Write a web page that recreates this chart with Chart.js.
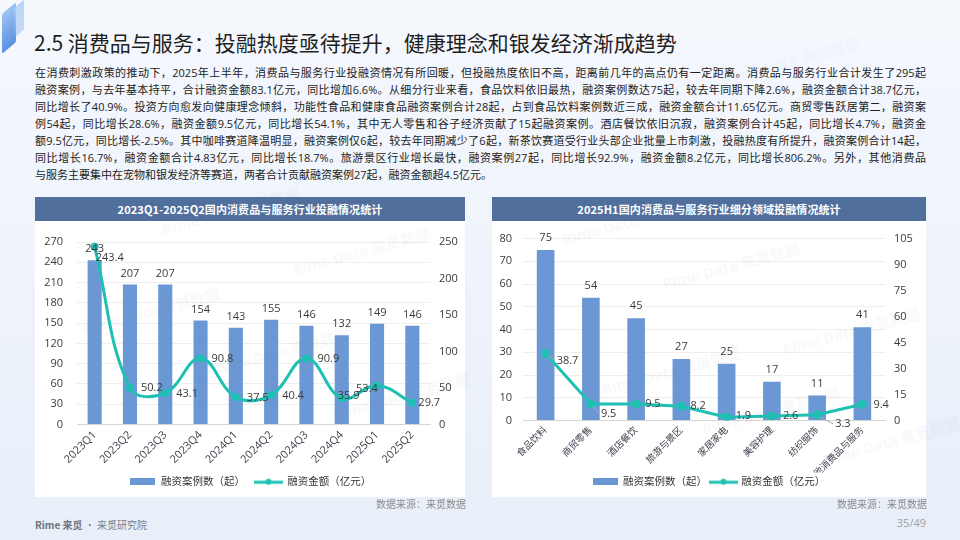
<!DOCTYPE html>
<html><head><meta charset="utf-8">
<script src="https://cdn.jsdelivr.net/npm/chart.js@4.4.1/dist/chart.umd.min.js"></script>
<style>
html,body{margin:0;padding:0;}
body{width:960px;height:540px;overflow:hidden;position:relative;background:linear-gradient(180deg,#f5f8fd 0%,#eef3fb 55%,#e8eff9 100%);font-family:"Open Sans","Noto Sans CJK SC",sans-serif;color:#222;}
#deco{position:absolute;left:2px;top:8px;width:14px;height:40px;transform:skewY(-40deg);background:linear-gradient(180deg,#8cbaf2,#3f7fdc);border-radius:2px;opacity:.85}
#deco2{position:absolute;left:14px;top:4px;width:10px;height:30px;transform:skewY(-40deg);background:linear-gradient(180deg,rgba(170,205,245,.8),rgba(110,165,235,.35));}
#title{position:absolute;left:34px;top:27px;font-size:21px;line-height:30px;font-family:"Noto Sans CJK SC",sans-serif;font-weight:400;color:#1f1f1f;white-space:nowrap;}
#para{position:absolute;left:35px;top:64px;width:891px;font-size:11px;line-height:17px;color:#222}
#para div{text-align:justify;text-align-last:justify;white-space:normal}
#para div.last{text-align-last:left}
.panel{position:absolute;top:197px;height:300px;background:#fff;}
.hdr{height:24px;background:#516f9c;color:#fff;font-weight:bold;font-size:11px;line-height:24px;text-align:center;font-family:"Noto Sans CJK SC",sans-serif;letter-spacing:0.1px}
.panel canvas{position:absolute;left:0;top:24px;}
.src{position:absolute;top:497px;font-size:10px;line-height:14px;color:#8a8a8a;font-family:"Noto Sans CJK SC",sans-serif;}
#foot{position:absolute;left:35px;top:517px;font-size:10px;line-height:16px;color:#7a7f88;font-family:"Noto Sans CJK SC",sans-serif;}
#foot b{font-weight:bold;color:#6f7580}
#page{position:absolute;right:34px;top:515px;font-size:11px;line-height:16px;color:#a0a0a0}
.wm{position:absolute;font-size:15px;color:rgba(110,130,165,0.055);transform:rotate(-15deg);white-space:nowrap;pointer-events:none;font-weight:bold;font-family:"Open Sans","Noto Sans CJK SC",sans-serif}
</style></head>
<body>
<div id="deco"></div><div id="deco2"></div>
<div id="title">2.5 消费品与服务：投融热度亟待提升，健康理念和银发经济渐成趋势</div>
<div id="para">
<div>在消费刺激政策的推动下，2025年上半年，消费品与服务行业投融资情况有所回暖，但投融热度依旧不高，距离前几年的高点仍有一定距离。消费品与服务行业合计发生了295起</div>
<div>融资案例，与去年基本持平，合计融资金额83.1亿元，同比增加6.6%。从细分行业来看，食品饮料依旧最热，融资案例数达75起，较去年同期下降2.6%，融资金额合计38.7亿元，</div>
<div>同比增长了40.9%。投资方向愈发向健康理念倾斜，功能性食品和健康食品融资案例合计28起，占到食品饮料案例数近三成，融资金额合计11.65亿元。商贸零售跃居第二，融资案</div>
<div>例54起，同比增长28.6%，融资金额9.5亿元，同比增长54.1%，其中无人零售和谷子经济贡献了15起融资案例。酒店餐饮依旧沉寂，融资案例合计45起，同比增长4.7%，融资金</div>
<div>额9.5亿元，同比增长-2.5%。其中咖啡赛道降温明显，融资案例仅6起，较去年同期减少了6起，新茶饮赛道受行业头部企业批量上市刺激，投融热度有所提升，融资案例合计14起，</div>
<div>同比增长16.7%，融资金额合计4.83亿元，同比增长18.7%。旅游景区行业增长最快，融资案例27起，同比增长92.9%，融资金额8.2亿元，同比增长806.2%。另外，其他消费品</div>
<div class="last">与服务主要集中在宠物和银发经济等赛道，两者合计贡献融资案例27起，融资金额超4.5亿元。</div>
</div>

<div class="panel" style="left:35px;width:430px">
<div class="hdr">2023Q1-2025Q2国内消费品与服务行业投融情况统计</div>
<canvas id="c1" width="430" height="276"></canvas>
</div>
<div class="panel" style="left:492px;width:434px">
<div class="hdr">2025H1国内消费品与服务行业细分领域投融情况统计</div>
<canvas id="c2" width="434" height="276"></canvas>
</div>
<div class="src" style="right:494px">数据来源：来觅数据</div>
<div class="src" style="right:33px">数据来源：来觅数据</div>
<div id="foot"><b>Rime 来觅</b> · 来觅研究院</div>
<div id="page">35/49</div>

<div class="wm" style="left:160px;top:200px">Rime Data 来觅数据</div>
<div class="wm" style="left:290px;top:240px">Rime Data 来觅数据</div>
<div class="wm" style="left:80px;top:300px">Rime Data 来觅数据</div>
<div class="wm" style="left:210px;top:340px">Rime Data 来觅数据</div>
<div class="wm" style="left:330px;top:385px">Rime Data 来觅数据</div>
<div class="wm" style="left:560px;top:210px">Rime Data 来觅数据</div>
<div class="wm" style="left:660px;top:255px">Rime Data 来觅数据</div>
<div class="wm" style="left:780px;top:320px">Rime Data 来觅数据</div>
<div class="wm" style="left:600px;top:360px">Rime Data 来觅数据</div>
<div class="wm" style="left:700px;top:400px">Rime Data 来觅数据</div>
<div class="wm" style="left:820px;top:430px">Rime Data 来觅数据</div>
<div class="wm" style="left:720px;top:50px">Rime Data 来觅数据</div>

<script>
// ---------- data ----------
const quarters = ['2023Q1','2023Q2','2023Q3','2023Q4','2024Q1','2024Q2','2024Q3','2024Q4','2025Q1','2025Q2'];
const quarterCases = [243,207,207,154,143,155,146,132,149,146];
const quarterAmounts = [243.4,50.2,43.1,90.8,37.5,40.4,90.9,35.9,53.4,29.7];
const quarterCaseTicks = [0,30,60,90,120,150,180,210,240,270];
const quarterAmountTicks = [0,50,100,150,200,250];

const sectors = ['食品饮料','商贸零售','酒店餐饮','旅游与景区','家居家电','美容护理','纺织服饰','其他消费品与服务'];
const sectorCases = [75,54,45,27,25,17,11,41];
const sectorAmounts = [38.7,9.5,9.5,8.2,1.9,2.6,3.3,9.4];
const sectorCaseTicks = [0,10,20,30,40,50,60,70,80];
const sectorAmountTicks = [0,15,30,45,60,75,90,105];

const seriesNames = ['融资案例数（起）','融资金额（亿元）'];

// ---------- style ----------
const BAR = '#6b98d4';
const LINE = '#1ec0b3';
const TXT = '#3a3a3a';
const FONT = '"Open Sans","Noto Sans CJK SC",sans-serif';

function barIcon(){const c=document.createElement('canvas');c.width=25;c.height=7;const x=c.getContext('2d');x.fillStyle=BAR;x.fillRect(0,0,25,7);return c;}
function lineIcon(){const c=document.createElement('canvas');c.width=29;c.height=9;const x=c.getContext('2d');x.strokeStyle=LINE;x.lineWidth=3;x.beginPath();x.moveTo(0,5);x.lineTo(29,5);x.stroke();x.fillStyle=LINE;x.beginPath();x.arc(14.5,4.5,3,0,Math.PI*2);x.fill();return c;}

const valueLabels = {
  id:'valueLabels',
  afterDatasetsDraw(chart, args, opts){
    const ctx = chart.ctx;
    ctx.save();
    ctx.font = '11px '+FONT;
    ctx.fillStyle = TXT;
    ctx.textBaseline = 'middle';
    const bars = chart.getDatasetMeta(0).data;
    ctx.textAlign = 'center';
    bars.forEach((el,i)=>{
      ctx.fillText(String(chart.data.datasets[0].data[i]), el.x, el.y - opts.barGap);
    });
    const pts = chart.getDatasetMeta(1).data;
    ctx.textAlign = 'left';
    pts.forEach((el,i)=>{
      const o = opts.offsets[i];
      if (opts.leaders && opts.leaders[i]) {
        ctx.save();
        ctx.strokeStyle = '#a6a6a6'; ctx.lineWidth = 1;
        ctx.beginPath(); ctx.moveTo(el.x+2, el.y+2); ctx.lineTo(el.x+o[0]-2, el.y+o[1]); ctx.stroke();
        ctx.restore();
      }
      ctx.fillText(String(chart.data.datasets[1].data[i]), el.x + o[0], el.y + o[1]);
    });
    ctx.restore();
  }
};

function makeChart(id, labels, cases, amounts, caseTicks, amountTicks, cfg){
  return new Chart(document.getElementById(id), {
    data:{
      labels: labels,
      datasets:[
        {type:'bar', label:seriesNames[0], data:cases, yAxisID:'y', backgroundColor:BAR, barPercentage:cfg.barPct, categoryPercentage:1, order:1},
        {type:'line', label:seriesNames[1], data:amounts, yAxisID:'y1', borderColor:LINE, backgroundColor:LINE, borderWidth:3, pointRadius:cfg.pointR, pointBackgroundColor:LINE, pointBorderWidth:0, tension:cfg.tension, order:0}
      ]
    },
    options:{
      responsive:false, animation:false,
      layout:{padding:{top:cfg.padTop, left:0, right:0, bottom:0}},
      plugins:{
        tooltip:{enabled:false},
        legend:{position:'bottom', labels:{
          usePointStyle:true, pointStyleWidth:cfg.iconW, padding:cfg.legendPad, color:'#333',
          font:{size:10.5, family:FONT},
          generateLabels: ch => ch.data.datasets.map((ds,i)=>({text:ds.label, pointStyle: i===0?barIcon():lineIcon(), datasetIndex:i, fillStyle:ds.backgroundColor, strokeStyle:ds.backgroundColor, lineWidth:0, hidden:false, fontColor:'#333'}))
        }},
        valueLabels:{barGap:cfg.barGap, offsets:cfg.offsets, leaders:cfg.leaders}
      },
      scales:{
        x:{
          grid:{display:false, drawTicks:false},
          border:{color:'#d6d6d6', width:1},
          ticks:{minRotation:45, maxRotation:45, autoSkip:false, padding:4, color:'#3a3f4a', font:{size:cfg.xFont, family:FONT}},
          afterFit: s => { s.height = cfg.xH; }
        },
        y:{
          position:'left', min:caseTicks[0], max:caseTicks[caseTicks.length-1],
          afterBuildTicks: s => { s.ticks = caseTicks.map(v=>({value:v})); },
          grid:{color:'#eeeeee', drawTicks:false},
          border:{display:false},
          ticks:{padding:cfg.yPadL, color:TXT, font:{size:11, family:FONT}},
          afterFit: s => { s.width = cfg.yWL; }
        },
        y1:{
          position:'right', min:amountTicks[0], max:amountTicks[amountTicks.length-1],
          afterBuildTicks: s => { s.ticks = amountTicks.map(v=>({value:v})); },
          grid:{display:false, drawTicks:false},
          border:{display:false},
          ticks:{padding:cfg.yPadR, color:TXT, font:{size:11, family:FONT}},
          afterFit: s => { s.width = cfg.yWR; }
        }
      }
    },
    plugins:[valueLabels]
  });
}

makeChart('c1', quarters, quarterCases, quarterAmounts, quarterCaseTicks, quarterAmountTicks, {
  barPct:0.4, pointR:4, tension:0.4, padTop:21, iconW:27, legendPad:10,
  xFont:11, xH:42, yPadL:14, yWL:42, yPadR:9, yWR:35, barGap:11,
  offsets:[[1,11],[11,0],[11,1],[11,1],[11,1],[11,1],[11,1],[-4,-2],[-21,3],[6,0]],
  leaders:null
});
makeChart('c2', sectors, sectorCases, sectorAmounts, sectorCaseTicks, sectorAmountTicks, {
  barPct:0.39, pointR:4.5, tension:0, padTop:15, iconW:25, legendPad:4,
  xFont:9.5, xH:52, yPadL:11, yWL:31, yPadR:9, yWR:41, barGap:12,
  offsets:[[11,7],[10,10],[9,0],[9,0],[9,-1],[11,0],[18,9],[11,1]],
  leaders:[true,true,false,false,false,false,true,false]
});
</script>
</body></html>
